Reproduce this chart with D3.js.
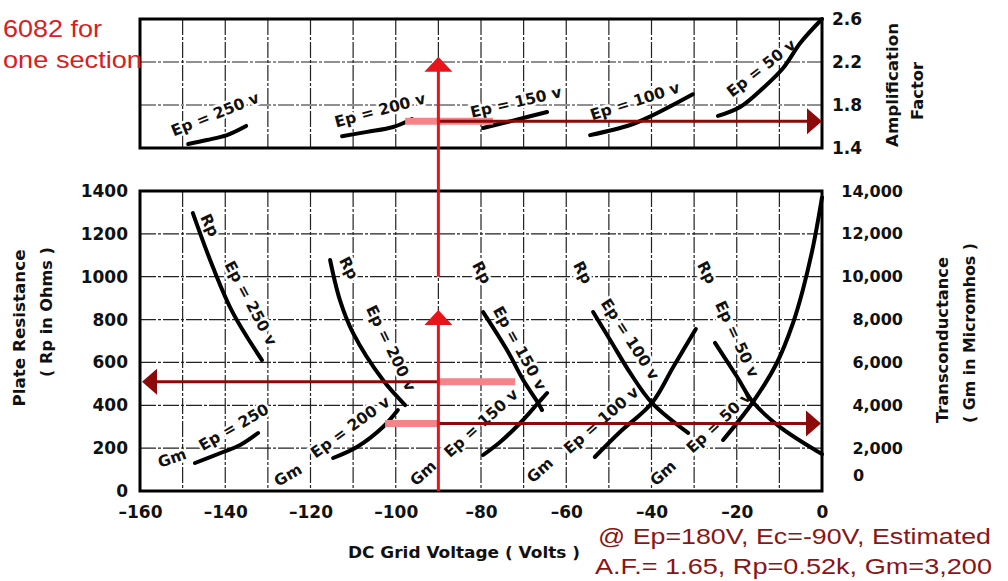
<!DOCTYPE html>
<html><head><meta charset="utf-8">
<script src="https://cdn.jsdelivr.net/npm/d3@7"></script>
<style>
html,body{margin:0;padding:0;background:#fff;}
svg{display:block;}
</style></head><body>
<svg id="c" width="1008" height="581"></svg>
<script>
// ---------- data ----------
const voltTicks = [-160,-140,-120,-100,-80,-60,-40,-20,0];
const afTicks = [1.4,1.8,2.2,2.6];
const rpTicks = [0,200,400,600,800,1000,1200,1400];
const gmTicks = [0,2000,4000,6000,8000,10000,12000,14000];

// Amplification factor vs grid voltage
const afEp250 = [[-148.7,1.437],[-144.3,1.474],[-139.6,1.52],[-135.1,1.605]];
const afEp200 = [[-112.6,1.51],[-106.7,1.55],[-100.6,1.595],[-96.2,1.67]];
const afEp150 = [[-79.5,1.586],[-72.5,1.655],[-64.5,1.735]];
const afEp100 = [[-54.4,1.52],[-45.0,1.614],[-39.6,1.707],[-30.3,1.90]];
const afEp50  = [[-24.4,1.698],[-19.2,1.781],[-13.8,1.958],[-9.1,2.144],[-5.1,2.377],[0,2.6]];

// Plate resistance (ohms)
const rpEp250 = [[-147.6,1297],[-142.9,1045],[-138.2,831],[-131.4,611]];
const rpEp200 = [[-115.4,1078],[-113.1,891],[-110.0,737],[-103.0,518],[-97.8,401]];
const rpEp150 = [[-79.5,835],[-73.9,658],[-70.1,518],[-66.6,411],[-65.7,378]];
const rpEp100 = [[-53.7,835],[-49.7,705],[-45.0,551],[-39.9,411],[-31.4,271]];
const rpEp50  = [[-25.1,691],[-19.9,532],[-16.2,415],[-9.9,299],[0,172]];

// Transconductance (micromhos)
const gmEp250 = [[-147.1,1307],[-140.5,1820],[-136.5,2147],[-132.3,2707]];
const gmEp200 = [[-114.7,1540],[-109.1,2053],[-103.0,2987],[-99.5,3780]];
const gmEp150 = [[-79.5,1680],[-75.5,2287],[-70.8,3173],[-66.6,4107],[-64.5,4573]];
const gmEp100 = [[-53.3,1587],[-47.4,2753],[-39.9,4107],[-34.9,5787],[-29.6,7560]];
const gmEp50  = [[-23.2,2380],[-16.2,4153],[-10.6,5973],[-6.8,7840],[-4.5,9380],[-2.0,11500],[0,13700]];

// Estimate at Ep=180V
const ecEst = -90, afEst = 1.65, rpEst = 510, gmEst = 3150;
const afBand = [-97.8,-77.2], rpBand = [-90,-72.0], gmBand = [-102.5,-90];
const afArrowTop = 2.25, rpGapTop = 1000, rpArrowTop = 845;

// curve label anchors [text, volts, value, angle]
const afLabels = [["Ep = 250 v",-142.4,1.716,-22],["Ep = 200 v",-103.7,1.753,-15],["Ep = 150 v",-71.8,1.828,-13],["Ep = 100 v",-43.9,1.837,-18],["Ep = 50 v",-14.3,2.144,-38]];
const rpLabels = [["Rp",-143.6,1241,65],["Ep = 250 v",-134.0,877,62],["Rp",-111.0,1041,62],["Ep = 200 v",-101.1,667,64],["Rp",-79.8,1020,62],["Ep = 150 v",-70.9,667,61],["Rp",-56.1,1020,62],["Ep = 100 v",-45.0,709,57],["Rp",-27.0,1020,62],["Ep = 50 v",-19.9,709,65]];
const gmLabels = [["Gm",-152.5,1540,-20],["Ep = 250",-138.0,2987,-30],["Gm",-125.3,747,-30],["Ep = 200 v",-110.7,2987,-36],["Gm",-93.6,840,-42],["Ep = 150 v",-80.0,3173,-42],["Gm",-66.2,980,-42],["Ep = 100 v",-51.8,3313,-41],["Gm",-37.3,840,-42],["Ep = 50 v",-24.2,3220,-43]];

// ---------- drawing ----------
const svg = d3.select("#c");
const L = 140, R = 822, T1 = 19, B1 = 148, T2 = 191, B2 = 491;
const x = d3.scaleLinear().domain([-160,0]).range([L,R]);
const yAF = d3.scaleLinear().domain([1.4,2.6]).range([B1,T1]);
const yRp = d3.scaleLinear().domain([0,1400]).range([B2,T2]);
const yGm = d3.scaleLinear().domain([0,14000]).range([B2,T2]);

const FONT = "'DejaVu Sans', sans-serif";
const gridStyle = s => s.attr("stroke","#222").attr("stroke-width",1.2).attr("stroke-dasharray","16,2,3,2");

// gridlines
const grid = svg.append("g");
const vGrid = d3.range(-150,0,10);
grid.selectAll(".vt").data(vGrid).join("line").attr("x1",x).attr("x2",x).attr("y1",T1).attr("y2",B1).call(gridStyle);
grid.selectAll(".vb").data(vGrid).join("line").attr("x1",x).attr("x2",x).attr("y1",T2).attr("y2",B2).call(gridStyle);
grid.selectAll(".ht").data(afTicks.slice(1,-1)).join("line").attr("x1",L).attr("x2",R).attr("y1",yAF).attr("y2",yAF).call(gridStyle);
grid.selectAll(".hb").data(rpTicks.slice(1,-1)).join("line").attr("x1",L).attr("x2",R).attr("y1",yRp).attr("y2",yRp).call(gridStyle);

// curve labels (with white halo)
function labels(data, yS){
  const g = svg.append("g");
  g.selectAll("text").data(data).join("text")
    .attr("transform", d => `translate(${x(d[1])},${yS(d[2])}) rotate(${d[3]})`)
    .attr("text-anchor","middle").attr("dy","0.35em")
    .attr("font-family",FONT).attr("font-weight","bold").attr("font-size",15.5)
    .attr("fill","#111").attr("stroke","#fff").attr("stroke-width",5).attr("paint-order","stroke")
    .text(d => d[0]);
}
labels(afLabels, yAF); labels(rpLabels, yRp); labels(gmLabels, yGm);

// curves
function curves(list, yS){
  const line = d3.line().x(d=>x(d[0])).y(d=>yS(d[1])).curve(d3.curveCatmullRom.alpha(0.5));
  svg.append("g").selectAll("path").data(list).join("path")
    .attr("d", line).attr("fill","none").attr("stroke","#000").attr("stroke-width",4).attr("stroke-linecap","round");
}
curves([afEp250,afEp200,afEp150,afEp100,afEp50], yAF);
curves([rpEp250,rpEp200,rpEp150,rpEp100,rpEp50], yRp);
curves([gmEp250,gmEp200,gmEp150,gmEp100,gmEp50], yGm);

// frames
svg.append("rect").attr("x",L).attr("y",T1).attr("width",R-L).attr("height",B1-T1).attr("fill","none").attr("stroke","#000").attr("stroke-width",3);
svg.append("rect").attr("x",L).attr("y",T2).attr("width",R-L).attr("height",B2-T2).attr("fill","none").attr("stroke","#000").attr("stroke-width",3);

// axes
function styleAxis(g){
  g.select(".domain").remove();
  g.selectAll(".tick line").remove();
  g.selectAll("text").attr("font-family",FONT).attr("font-weight","bold").attr("fill","#111");
}
const dash = d => d < 0 ? "\u2013" + Math.abs(d) : String(d);
svg.append("g").attr("transform",`translate(0,${B2})`)
  .call(d3.axisBottom(x).tickValues(voltTicks).tickFormat(dash).tickSize(0).tickPadding(15))
  .call(styleAxis).call(g=>g.selectAll("text").attr("font-size",17));
svg.append("g").attr("transform",`translate(${L},0)`)
  .call(d3.axisLeft(yRp).tickValues(rpTicks).tickFormat(d3.format("d")).tickSize(0).tickPadding(12))
  .call(styleAxis).call(g=>g.selectAll("text").attr("font-size",17));
svg.append("g").attr("transform",`translate(${R},0)`)
  .call(d3.axisRight(yAF).tickValues(afTicks).tickFormat(d=>d.toFixed(1)).tickSize(0).tickPadding(10))
  .call(styleAxis).call(g=>g.selectAll("text").attr("font-size",17));
svg.append("g").attr("transform",`translate(${R},0)`)
  .call(d3.axisRight(yGm).tickValues(gmTicks).tickFormat(d3.format(",")).tickSize(0).tickPadding(0))
  .call(styleAxis).call(g=>{
    g.selectAll("text").attr("font-size",16).attr("text-anchor","end").attr("x",81);
    g.selectAll(".tick").filter(d=>d===0).select("text").attr("text-anchor","start").attr("x",31).attr("y",-16);
  });

// axis titles
function title(txt, cx, cy, rot, len, size){
  svg.append("text").attr("transform",`translate(${cx},${cy}) rotate(${rot})`)
    .attr("text-anchor","middle").attr("font-family",FONT).attr("font-weight","bold")
    .attr("font-size",size).attr("fill","#111")
    .attr("textLength",len).attr("lengthAdjust","spacingAndGlyphs").text(txt);
}
title("DC Grid Voltage ( Volts )", 464, 558, 0, 232, 16);
title("Plate Resistance", 25, 328, -90, 157, 16);
title("( Rp in Ohms )", 52, 312, -90, 130, 16);
title("Amplification", 898, 85, -90, 124, 16);
title("Factor", 923, 91, -90, 58, 16);
title("Transconductance", 948, 340, -90, 166, 16);
title("( Gm in Micromhos )", 975, 333, -90, 180, 16);

// ---------- estimate annotation ----------
const RED = "#e8141c", DARK = "#8c0a0a", PINK = "#f4838a";
const ann = svg.append("g");
// pink bands
ann.append("line").attr("x1",x(afBand[0])).attr("x2",x(afBand[1])).attr("y1",yAF(afEst)).attr("y2",yAF(afEst)).attr("stroke",PINK).attr("stroke-width",7);
ann.append("line").attr("x1",x(rpBand[0])).attr("x2",x(rpBand[1])).attr("y1",yRp(rpEst)).attr("y2",yRp(rpEst)).attr("stroke",PINK).attr("stroke-width",7);
ann.append("line").attr("x1",x(gmBand[0])).attr("x2",x(gmBand[1])).attr("y1",yGm(gmEst)).attr("y2",yGm(gmEst)).attr("stroke",PINK).attr("stroke-width",7);
// dark red arrows
const xe = x(ecEst);
function hArrow(x0, tip, y, dir){
  const base = tip - dir*15;
  ann.append("line").attr("x1",x0).attr("x2",base).attr("y1",y).attr("y2",y).attr("stroke",DARK).attr("stroke-width",3);
  ann.append("path").attr("d",`M${tip},${y}L${base},${y-13}L${base},${y+13}Z`).attr("fill",DARK);
}
hArrow(xe, x(0), yAF(afEst), 1);
hArrow(xe, x(-160)+2, yRp(rpEst), -1);
hArrow(xe, x(0)-1, yGm(gmEst), 1);
// red vertical with arrows
function vArrow(tipY){
  ann.append("path").attr("d",`M${xe},${tipY}L${xe-14},${tipY+15}L${xe+14},${tipY+15}Z`).attr("fill",RED);
}
ann.append("line").attr("x1",xe).attr("x2",xe).attr("y1",yAF(afArrowTop)+14).attr("y2",yRp(rpGapTop)).attr("stroke",RED).attr("stroke-width",3);
vArrow(yAF(afArrowTop));
ann.append("line").attr("x1",xe).attr("x2",xe).attr("y1",yRp(rpArrowTop)+14).attr("y2",yRp(0)).attr("stroke",RED).attr("stroke-width",3);
vArrow(yRp(rpArrowTop));

// red notes
const NF = "'Liberation Sans', Arial, sans-serif";
function note(txt, xx, yy, len, col, size){
  svg.append("text").attr("x",xx).attr("y",yy).attr("font-family",NF).attr("font-size",size)
    .attr("fill",col).attr("textLength",len).attr("lengthAdjust","spacingAndGlyphs").text(txt);
}
note("6082 for", 3, 37, 99, "#d9201e", 24);
note("one section", 3, 68, 139, "#d9201e", 24);
note("@ Ep=180V, Ec=-90V, Estimated", 598, 544, 393, "#8b1414", 22);
note("A.F.= 1.65, Rp=0.52k, Gm=3,200", 595, 574, 397, "#8b1414", 22);
</script></body></html>
